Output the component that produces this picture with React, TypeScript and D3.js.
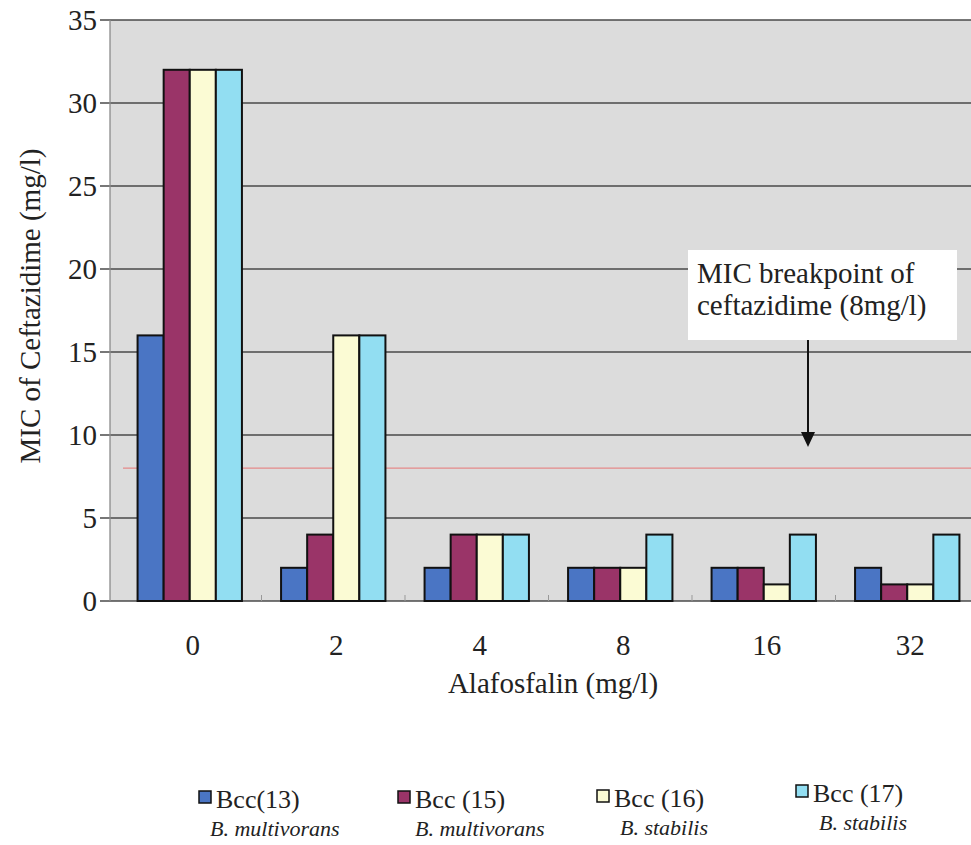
import React from "react";
import * as d3 from "d3";

const categories = ["0", "2", "4", "8", "16", "32"];
const seriesNames = ["Bcc(13)", "Bcc (15)", "Bcc (16)", "Bcc (17)"];
const seriesSpecies = ["B. multivorans", "B. multivorans", "B. stabilis", "B. stabilis"];
const bcc13 = [16, 2, 2, 2, 2, 2];
const bcc15 = [32, 4, 4, 2, 2, 1];
const bcc16 = [32, 16, 4, 2, 1, 1];
const bcc17 = [32, 16, 4, 4, 4, 4];
const seriesValues = [bcc13, bcc15, bcc16, bcc17];
const yTicks = [0, 5, 10, 15, 20, 25, 30, 35];
const breakpoint = 8;
const annotationLines = ["MIC breakpoint of", "ceftazidime (8mg/l)"];
const xTitle = "Alafosfalin (mg/l)";
const yTitle = "MIC of Ceftazidime (mg/l)";

const colors = ["#4a75c4", "#9a3468", "#fbfbd4", "#92def2"];
const FONT = '"Liberation Serif"';

export default function App() {
  const W = 971, H = 845;
  const plotLeft = 110, plotTop = 20, plotBottom = 601, plotRight = 975;
  const bandStart = 118;
  const x = d3.scaleBand<string>().domain(categories).range([bandStart, bandStart + 6 * 143.5]).padding(0);
  const bw = x.bandwidth();
  const barW = bw / 5.5;
  const y = d3.scaleLinear().domain([0, 35]).range([plotBottom, plotTop]);

  const legendDy = [0, 0, -1, -6];
  const legendSubDx = [-4, 2, 8, 8];
  const ts = { fontFamily: FONT };
  const its = { fontFamily: FONT, fontStyle: "italic" as const };

  return (
    <svg width={W} height={H} style={{ position: "absolute", left: 0, top: 0, background: "#fff" }}>
      <rect x={0} y={0} width={W} height={H} fill="#ffffff" />
      <rect x={plotLeft} y={plotTop} width={plotRight - plotLeft} height={plotBottom - plotTop} fill="#dcdcdc" />
      {yTicks.map((t) => (
        <line key={t} x1={plotLeft - 10} x2={plotRight} y1={y(t)} y2={y(t)} stroke="#4a4a4a" strokeWidth={1.3} />
      ))}
      <line x1={plotLeft} x2={plotLeft} y1={plotTop} y2={plotBottom} stroke="#8a8a8a" strokeWidth={1.3} />
      {categories.slice(1).map((c) => (
        <line key={c} x1={x(c)!} x2={x(c)!} y1={plotBottom} y2={plotBottom - 6} stroke="#999" strokeWidth={1} />
      ))}
      <line x1={bandStart + 5} x2={plotRight} y1={y(breakpoint)} y2={y(breakpoint)} stroke="#e58a8a" strokeWidth={1.3} />
      {categories.map((c, ci) =>
        seriesValues.map((vals, si) => {
          const bx = x(c)! + barW * 0.75 + si * barW;
          return (
            <rect key={c + "-" + si} x={bx} y={y(vals[ci])} width={barW} height={y(0) - y(vals[ci])}
              fill={colors[si]} stroke="#111" strokeWidth={2} />
          );
        })
      )}
      {yTicks.map((t) => (
        <text key={t} style={ts} x={97} y={y(t) + 10} textAnchor="end" fontSize={29} fill="#222">{t}</text>
      ))}
      {categories.map((c) => (
        <text key={c} style={ts} x={x(c)! + bw / 2 + 3} y={655} textAnchor="middle" fontSize={29} fill="#222">{c}</text>
      ))}
      <text style={ts} x={553} y={693} textAnchor="middle" fontSize={29} fill="#222">{xTitle}</text>
      <text style={ts} transform="translate(40,306) rotate(-90)" textAnchor="middle" fontSize={29} fill="#222">{yTitle}</text>
      <rect x={688} y={250} width={269} height={90} fill="#ffffff" />
      {annotationLines.map((l, i) => (
        <text key={i} style={ts} x={697} y={283 + i * 32} fontSize={29} fill="#222">{l}</text>
      ))}
      <line x1={808} x2={808} y1={340} y2={433} stroke="#111" strokeWidth={2} />
      <path d="M801,432 L815,432 L808,447 Z" fill="#111" />
      {seriesNames.map((n, i) => {
        const lx = 199 + i * 199;
        const ly = 791 + legendDy[i];
        return (
          <g key={n}>
            <rect x={lx} y={ly} width={12} height={12} fill={colors[i]} stroke="#111" strokeWidth={1.5} />
            <text style={ts} x={lx + 17} y={ly + 17} fontSize={26} fill="#222">{n}</text>
            <text style={its} x={lx + 15 + legendSubDx[i]} y={ly + 45} fontSize={22} fill="#222">{seriesSpecies[i]}</text>
          </g>
        );
      })}
    </svg>
  );
}
